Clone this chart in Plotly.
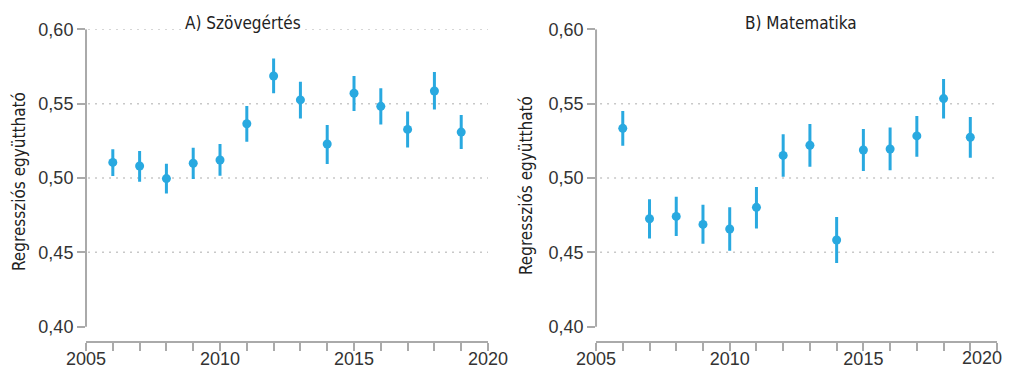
import plotly.graph_objects as go

years = list(range(2006, 2020))

# A) Szövegértés (reading)
read_val = [0.5105, 0.5081, 0.4996, 0.5099, 0.5121, 0.5365, 0.5686, 0.5525, 0.5229, 0.5570, 0.5482, 0.5327, 0.5585, 0.5309]
read_hi  = [0.5193, 0.5182, 0.5096, 0.5204, 0.5229, 0.5484, 0.5803, 0.5648, 0.5357, 0.5686, 0.5603, 0.5448, 0.5713, 0.5424]
read_lo  = [0.5013, 0.4975, 0.4895, 0.4993, 0.5016, 0.5244, 0.5570, 0.5401, 0.5094, 0.5451, 0.5359, 0.5206, 0.5460, 0.5195]

# B) Matematika
math_val = [0.5334, 0.4726, 0.4742, 0.4688, 0.4657, 0.4803, 0.5152, 0.5220, 0.4583, 0.5188, 0.5195, 0.5283, 0.5534, 0.5274]
math_hi  = [0.5451, 0.4857, 0.4874, 0.4821, 0.4803, 0.4939, 0.5294, 0.5363, 0.4738, 0.5330, 0.5339, 0.5417, 0.5666, 0.5410]
math_lo  = [0.5217, 0.4594, 0.4610, 0.4558, 0.4511, 0.4661, 0.5009, 0.5076, 0.4428, 0.5047, 0.5052, 0.5143, 0.5401, 0.5137]

titles = ["A) Szövegértés", "B) Matematika"]
y_title = "Regressziós együttható"
x_ticks = list(range(2005, 2021))
x_ticktext = [str(y) if y % 5 == 0 else "" for y in x_ticks]
# last label of the right panel is placed flush with the page edge
x_ticktext_b = x_ticktext[:-1] + [""]
y_ticks = [0.40, 0.45, 0.50, 0.55, 0.60]
grid_a = [0.45, 0.50, 0.55, 0.60]
grid_b = [0.45, 0.50, 0.55]

BLUE = "#29a9e0"
AXIS = "#aaaaaa"
GRID = "#c8c8c8"
TICKFONT = dict(family="Liberation Sans, Arial, sans-serif", size=18, color="#333333")
COND = "Liberation Sans Narrow, DejaVu Sans Condensed, Roboto Condensed, Arial Narrow, sans-serif"

W, H = 1004, 361  # page body has an 8px margin

fig = go.Figure()

def add_series(val, hi, lo, xa, ya):
    fig.add_trace(go.Scatter(
        x=years, y=val, xaxis=xa, yaxis=ya, mode="markers",
        marker=dict(color=BLUE, size=9),
        error_y=dict(type="data", symmetric=False,
                     array=[h - v for h, v in zip(hi, val)],
                     arrayminus=[v - l for v, l in zip(val, lo)],
                     color=BLUE, thickness=3, width=0),
        showlegend=False, hoverinfo="x+y"))

add_series(read_val, read_hi, read_lo, "x", "y")
add_series(math_val, math_hi, math_lo, "x2", "y2")

ydom = [0.0784, 0.9410]
common_x = dict(range=[2005, 2020], tickvals=x_ticks,
                showline=True, linecolor=AXIS, linewidth=2, ticks="outside",
                ticklen=8, tickwidth=2, tickcolor=AXIS, showgrid=False,
                zeroline=False, tickfont=TICKFONT, automargin=False,
                ticklabelstandoff=-7, ticklabeloverflow="allow")
common_y = dict(range=[0.3906, 0.60], tickvals=y_ticks, tickformat=".2f",
                showline=False, ticks="outside",
                ticklen=8, tickwidth=2, tickcolor=AXIS, showgrid=False,
                zeroline=False, tickfont=TICKFONT, domain=ydom, automargin=False)

fig.update_layout(
    width=W, height=H,
    margin=dict(l=0, r=0, t=0, b=0),
    paper_bgcolor="white", plot_bgcolor="white",
    separators=", ",
    xaxis=dict(domain=[0.0777, 0.4781], anchor="y", ticktext=x_ticktext, **common_x),
    yaxis=dict(anchor="x", **common_y),
    xaxis2=dict(domain=[0.5857, 0.9851], anchor="y2", ticktext=x_ticktext_b, **common_x),
    yaxis2=dict(anchor="x2", **common_y),
)

# range-frame style y axis lines (from lowest to highest tick)
for xr, yr in (("x domain", "y"), ("x2 domain", "y2")):
    fig.add_shape(type="line", xref=xr, yref=yr, x0=0, x1=0, y0=y_ticks[0], y1=y_ticks[-1],
                  line=dict(color=AXIS, width=2), layer="above")

for g in grid_a:
    fig.add_shape(type="line", xref="x domain", yref="y", x0=0.005, x1=1, y0=g, y1=g,
                  line=dict(color=GRID, width=1.5, dash="2px,5px"), layer="below")
for g in grid_b:
    fig.add_shape(type="line", xref="x2 domain", yref="y2", x0=0.01, x1=1, y0=g, y1=g,
                  line=dict(color=GRID, width=1.5, dash="2px,5px"), layer="below")

fig.add_annotation(text=x_ticktext[-1], xref="paper", yref="paper", x=1.0, y=0.0,
                   xanchor="right", yanchor="bottom", yshift=-1, xshift=-8, showarrow=False,
                   font=TICKFONT)

tfont = dict(family=COND, size=17, color="#222222")
fig.add_annotation(text=titles[0], xref="paper", yref="paper", x=0.2336, y=0.9584,
                   xanchor="center", yanchor="middle", showarrow=False, bgcolor="white", font=tfont)
fig.add_annotation(text=titles[1], xref="paper", yref="paper", x=0.7898, y=0.9584,
                   xanchor="center", yanchor="middle", showarrow=False, bgcolor="white", font=tfont)
fig.add_annotation(text=y_title, xref="paper", yref="paper", x=0.01096, y=0.518,
                   xanchor="center", yanchor="middle", textangle=-90, showarrow=False, font=tfont)
fig.add_annotation(text=y_title, xref="paper", yref="paper", x=0.516, y=0.507,
                   xanchor="center", yanchor="middle", textangle=-90, showarrow=False, font=tfont)

fig.write_html("out.html")
